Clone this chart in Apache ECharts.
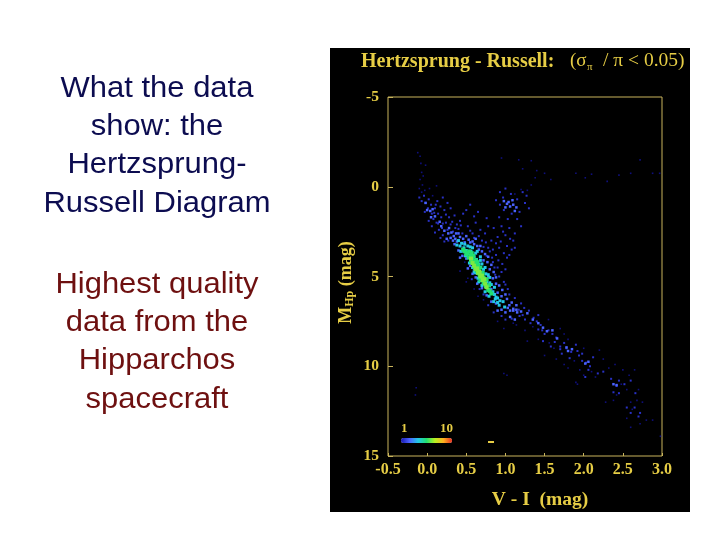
<!DOCTYPE html>
<html><head><meta charset="utf-8">
<style>html,body{margin:0;padding:0;background:#fff}#c{width:720px;height:540px}</style>
<script src="https://cdn.jsdelivr.net/npm/echarts@6/dist/echarts.min.js"></script>
</head><body><div id="c"></div>
<script>
const yRange=[-5,15];
const leftLines1=["What the data","show: the","Hertzsprung-","Russell Diagram"];
const leftLines2=["Highest quality","data from the","Hipparchos","spacecraft"];
const sparse=[[-0.12,-1.9],[-0.09,-1.7],[-0.08,-1.3],[-0.02,-1.2],[-0.07,-0.8],[-0.05,-0.6],[-0.09,-0.4],[-0.06,-0.1],[-0.1,0.1],[-0.07,0.3],[-0.03,0.2],[0.03,0.1],[0.07,0.5],[0.12,-0.05],[0.95,-1.6],[1.17,-1.5],[1.33,-1.45],[1.22,-1.0],[1.4,-0.9],[1.5,-0.75],[1.58,-0.4],[1.38,-0.5],[1.33,-0.1],[1.28,0.2],[1.2,0.15],[1.12,0.4],[1.9,-0.75],[2.1,-0.7],[2.3,-0.3],[2.45,-0.65],[2.6,-0.75],[2.72,-1.5],[2.88,-0.75],[2.97,-0.75],[2.02,-0.5],[-0.15,11.6],[-0.14,11.2],[0.98,10.4],[1.02,10.5],[1.35,7.8],[1.25,8.0],[0.48,4.2],[0.42,4.7],[0.5,5.3],[0.52,5.1],[0.6,5.7],[0.65,6.1],[0.72,6.3],[0.98,7.9],[0.9,7.5],[1.1,7.6],[1.14,7.7],[1.28,8.6],[1.42,8.5],[1.56,8.7],[1.62,9.0],[1.5,9.4],[1.65,9.6],[1.75,9.9],[1.8,8.5],[1.88,9.7],[1.95,10.2],[2.0,10.5],[1.9,10.9],[1.92,11.0],[2.1,10.3],[2.15,10.6],[2.25,9.6],[2.32,10.1],[2.4,9.9],[2.5,10.2],[2.58,10.5],[2.65,10.2],[2.42,11.6],[2.38,11.9],[2.28,12.0],[2.48,11.0],[2.55,11.3],[2.62,12.4],[2.55,12.9],[2.6,13.4],[2.72,13.2],[2.8,13.0],[2.88,13.0],[2.98,13.9],[2.7,11.3],[2.75,12.0],[2.6,12.0],[2.68,11.9],[1.8,10.1],[1.75,8.2],[2.0,9.0],[2.2,9.1],[1.55,7.4],[1.7,7.9]];
const blueLow=[[-0.1,0.6],[-0.07,0.8],[-0.04,0.5],[-0.02,0.9],[0.02,0.7],[0.05,1.0],[0.01,1.2],[-0.03,1.4],[0.06,1.5],[0.1,1.2],[0.13,0.8],[0.17,1.1],[0.2,0.6],[0.14,1.5],[0.08,1.8],[0.12,2.0],[0.18,1.7],[0.22,1.3],[0.26,0.9],[0.3,1.2],[0.28,1.7],[0.24,2.0],[0.19,2.3],[0.15,2.4],[0.2,2.7],[0.26,2.4],[0.3,2.1],[0.35,1.6],[0.38,2.1],[0.33,2.5],[0.42,1.9],[0.46,1.5],[0.5,1.3],[0.55,1.0],[0.45,2.6],[0.52,2.2],[0.58,2.6],[0.62,2.0],[0.68,2.4],[0.65,1.4],[0.7,3.0],[0.74,2.6],[0.78,2.2],[0.82,3.0],[0.85,2.3],[0.9,2.8],[0.95,2.2],[1.0,2.7],[1.05,2.3],[0.92,1.7],[0.98,1.3],[1.03,1.8],[1.08,1.5],[1.15,1.8],[1.18,1.4],[1.2,2.2],[1.12,2.6],[1.1,3.0],[1.02,3.3],[1.05,3.8],[0.98,3.7],[0.92,3.4],[0.88,3.8],[0.84,4.2],[0.8,3.6],[0.96,4.3],[1.0,4.6],[0.9,4.5],[1.08,3.5],[1.12,3.4],[0.93,1.0],[0.97,0.6],[1.0,0.1],[1.07,0.4],[1.15,0.7],[1.25,0.9],[1.27,0.5],[1.3,1.2],[1.22,0.3],[0.93,0.3],[0.88,0.75],[0.76,1.75],[0.6,1.65],[0.92,5.0],[0.98,5.3],[1.05,6.0],[1.12,6.2],[1.2,6.5],[0.72,6.0],[0.78,6.6],[0.85,7.0],[0.95,7.2],[1.0,7.4],[1.3,6.9],[1.36,7.3],[1.25,7.4],[1.18,7.2],[1.32,7.6],[1.4,7.5],[1.45,7.7],[1.5,8.2],[1.42,7.95],[1.55,8.0],[1.48,8.6],[1.6,8.2],[1.65,8.4],[1.58,8.9],[1.7,8.9],[1.72,9.3],[1.78,9.0],[1.84,9.2],[1.82,9.55],[1.9,8.8],[1.94,9.4],[1.98,9.7],[2.03,9.8],[2.08,10.0],[2.12,9.5],[2.02,10.6],[2.06,10.2],[2.18,10.4],[2.25,10.3],[2.35,10.7],[2.45,10.8],[2.52,11.0],[2.6,10.8],[2.42,11.1],[2.38,11.45],[2.45,11.5],[2.66,11.5],[2.65,12.3],[2.72,12.6],[2.7,12.8],[2.6,12.6],[2.55,12.3],[0.02,1.9],[0.06,2.2],[0.1,2.55],[0.14,2.05],[0.17,2.85],[0.22,3.05],[0.11,1.0],[0.09,1.45],[0.24,1.55],[0.2,2.05],[0.27,3.0],[0.32,1.95],[0.4,2.35],[0.43,2.15],[0.36,2.3],[0.55,2.45],[0.6,2.85],[0.66,2.75],[0.72,3.35],[0.75,3.1],[0.78,3.4],[0.84,3.5],[0.88,3.15],[0.94,3.05],[0.97,2.5],[1.06,2.9],[0.76,3.85],[0.83,3.95],[0.86,4.5],[0.91,4.1],[0.95,4.75],[0.87,4.9],[1.02,3.95],[1.03,5.7],[1.0,5.45],[0.57,5.15],[0.67,5.7],[1.17,6.85],[1.24,6.75],[1.22,7.15],[1.08,7.35],[1.42,7.15],[1.47,8.0],[1.63,8.65],[1.75,8.7],[1.7,9.05],[1.92,9.15],[1.98,9.3]];
const blueMid=[[-0.02,0.9],[0.0,1.3],[0.04,1.35],[0.07,1.25],[0.05,1.7],[0.1,1.65],[0.16,1.95],[0.18,2.2],[0.22,2.45],[0.27,2.6],[0.3,2.85],[0.25,2.9],[0.34,2.75],[0.37,2.6],[0.33,3.0],[0.38,3.05],[0.4,2.6],[0.46,2.9],[0.5,2.75],[0.55,3.1],[0.6,3.2],[0.62,2.9],[0.66,3.5],[0.7,3.6],[0.72,4.1],[0.77,4.2],[0.8,4.6],[0.78,5.0],[0.84,5.1],[0.88,5.4],[0.82,5.7],[0.9,5.9],[0.95,6.1],[1.0,6.0],[1.05,6.6],[1.1,6.8],[1.15,7.0],[1.2,6.95],[1.28,7.05],[1.0,7.0],[1.06,7.25],[1.12,7.4],[0.95,6.85],[0.88,6.5],[0.62,5.05],[0.6,4.6],[0.55,4.4],[0.5,4.0],[0.46,3.6],[0.4,3.55],[0.35,3.2],[1.02,0.95],[1.06,1.1],[0.98,0.8],[1.0,1.15],[1.1,1.0],[1.14,1.15],[1.09,0.75],[1.04,0.85],[1.12,1.35],[1.35,7.4],[1.42,7.6],[1.48,7.85],[1.53,8.05],[1.6,8.0],[1.66,8.45],[1.78,8.95],[1.8,9.15],[1.85,9.05],[2.02,9.85],[2.06,9.75],[2.42,11.05],[2.38,11.0],[0.28,2.3],[0.31,2.55],[0.36,2.9],[0.42,2.8],[0.48,3.1],[0.53,2.95],[0.58,3.05],[0.64,3.3],[0.68,3.3],[0.74,3.75],[0.78,3.9],[0.82,4.35],[0.85,4.75],[0.88,5.05],[0.92,5.5],[0.96,5.75],[1.02,6.25],[1.08,6.45],[1.14,6.6],[0.58,4.85],[0.64,5.4],[0.7,5.65],[0.76,6.05],[0.82,6.4],[0.9,6.9],[0.52,4.55],[0.45,3.85],[0.42,3.95],[1.03,6.75],[1.06,6.9],[1.1,6.9],[1.14,6.85]];
const cyan=[[0.38,3.25],[0.42,3.3],[0.4,3.0],[0.44,3.15],[0.47,3.4],[0.43,3.6],[0.52,3.3],[0.5,3.55],[0.56,3.6],[0.58,3.4],[0.6,3.9],[0.63,4.05],[0.66,4.3],[0.68,4.1],[0.72,4.6],[0.75,4.85],[0.76,5.3],[0.8,5.35],[0.82,5.45],[0.84,5.85],[0.86,6.0],[0.9,6.2],[0.93,6.35],[0.97,6.4],[0.99,6.7],[0.92,6.6],[0.88,6.15],[0.65,5.1],[0.62,4.8],[0.58,4.5],[0.54,4.25],[0.49,3.85],[0.64,3.6],[0.48,3.2],[0.55,3.35],[0.62,3.7],[0.68,3.9],[0.7,4.3],[0.74,4.5],[0.78,4.9],[0.8,5.05],[0.86,5.6],[0.6,4.75],[0.66,5.3],[0.7,5.5],[0.74,5.85],[0.79,6.1],[0.85,6.4],[0.87,6.25],[0.9,6.45]];
const green=[[0.46,3.5],[0.48,3.6],[0.5,3.75],[0.52,3.7],[0.53,3.95],[0.55,3.85],[0.56,4.15],[0.58,4.05],[0.6,4.3],[0.61,4.5],[0.63,4.4],[0.64,4.7],[0.66,4.6],[0.67,4.95],[0.69,4.85],[0.7,5.1],[0.72,5.05],[0.72,5.35],[0.74,5.25],[0.75,5.55],[0.77,5.5],[0.78,5.75],[0.8,5.8],[0.82,5.95],[0.57,3.7],[0.62,4.1],[0.65,4.4],[0.68,5.2],[0.54,3.6],[0.59,3.85],[0.64,4.2],[0.68,4.5],[0.71,4.8],[0.76,5.15],[0.79,5.5]];
const lime=[[0.58,4.25],[0.6,4.4],[0.62,4.6],[0.64,4.55],[0.65,4.8],[0.67,4.75],[0.68,5.0],[0.7,4.95],[0.71,5.2],[0.73,5.15],[0.74,5.4],[0.76,5.6],[0.56,4.0]];

const points=(arr,d)=>arr.map(p=>[p[0],p[1],d]);
const gold='#e6cd45';
const tickGold='#c9b45c';
const serif='"Liberation Serif","Times New Roman",serif';
const sans='"Liberation Sans",Arial,sans-serif';
const left=(lines,color,top)=>lines.map((t,i)=>({type:'text',z:100,x:157,y:top+i*38.3,scaleX:1.05,style:{x:0,y:0,text:t,fill:color,font:'29.5px '+sans,textAlign:'center',textVerticalAlign:'middle'}}));
const chart=echarts.init(document.getElementById('c'));
chart.setOption({
 animation:false,
 backgroundColor:'#fff',
 graphic:{elements:[
  {type:'rect',z:-10,shape:{x:330,y:48,width:360,height:464},style:{fill:'#000'},silent:true},
  ...left(leftLines1,'#0c0c50',88.5),
  ...left(leftLines2,'#6e1010',284.5),
  {type:'text',z:100,style:{x:361,y:62,text:'Hertzsprung - Russell:',fill:gold,font:'bold 20px '+serif,textVerticalAlign:'middle'}},
  {type:'text',z:100,style:{x:570,y:61,text:'(σ',fill:gold,font:'19px '+serif,textVerticalAlign:'middle'}},
  {type:'text',z:100,style:{x:587,y:67,text:'π',fill:gold,font:'11px '+serif,textVerticalAlign:'middle'}},
  {type:'text',z:100,style:{x:603,y:61,text:'/ π < 0.05)',fill:gold,font:'19.5px '+serif,textVerticalAlign:'middle'}},
  {type:'text',z:100,style:{x:401,y:429,text:'1',fill:gold,font:'bold 13px '+serif,textVerticalAlign:'middle'}},
  {type:'text',z:100,style:{x:440,y:429,text:'10',fill:gold,font:'bold 13px '+serif,textVerticalAlign:'middle'}},
  {type:'rect',z:100,shape:{x:488,y:441,width:6,height:2},style:{fill:gold}}
 ]},
 grid:{left:388,top:97,width:274,height:359,show:true,borderColor:tickGold,borderWidth:1,backgroundColor:'transparent'},
 xAxis:{type:'value',min:-0.5,max:3,interval:0.5,
  name:'V - I  (mag)',nameLocation:'middle',nameGap:34,nameTextStyle:{color:gold,fontFamily:serif,fontWeight:'bold',fontSize:19.5,padding:[0,0,0,30]},
  axisLine:{show:false,onZero:false},splitLine:{show:false},
  axisTick:{inside:true,length:3,lineStyle:{color:tickGold}},
  axisLabel:{color:gold,fontFamily:serif,fontWeight:'bold',fontSize:16,margin:6,formatter:v=>v.toFixed(1)}},
 yAxis:{type:'value',min:yRange[0],max:yRange[1],interval:5,inverse:true,
  name:'{m|M}{s|Hp}{m| (mag)}',nameLocation:'middle',nameGap:32,nameRotate:90,
  nameTextStyle:{padding:[0,12,0,0],rich:{m:{color:gold,fontFamily:serif,fontWeight:'bold',fontSize:18},s:{color:gold,fontFamily:serif,fontWeight:'bold',fontSize:12,verticalAlign:'bottom',padding:[8,0,0,0]}}},
  axisLine:{show:false,onZero:false},splitLine:{show:false},
  axisTick:{inside:true,length:5,lineStyle:{color:tickGold}},
  axisLabel:{color:gold,fontFamily:serif,fontWeight:'bold',fontSize:15.5,margin:9}},
 visualMap:{type:'continuous',min:1,max:10,dimension:2,seriesIndex:[0,1,2,3,4,5],show:true,calculable:false,realtime:false,
  orient:'horizontal',left:386,top:423,itemWidth:5,itemHeight:51,text:null,showLabel:false,textStyle:{color:'rgba(0,0,0,0)'},
  inRange:{color:['#1616b0','#4a62ff','#22c8e6','#22e070','#b8f020','#ffb020','#e83020']}},
 series:[
  {d:sparse,v:1,s:1.6,o:0.7},{d:blueLow,v:1.6,s:2,o:0.95},{d:blueMid,v:2.5,s:2.5,o:1},
  {d:cyan,v:4,s:3,o:1},{d:green,v:5.5,s:4,o:1},{d:lime,v:6.4,s:4,o:1}
 ].map(o=>({type:'scatter',symbol:'rect',symbolSize:o.s,itemStyle:{opacity:o.o},data:points(o.d,o.v)}))
});
</script></body></html>
